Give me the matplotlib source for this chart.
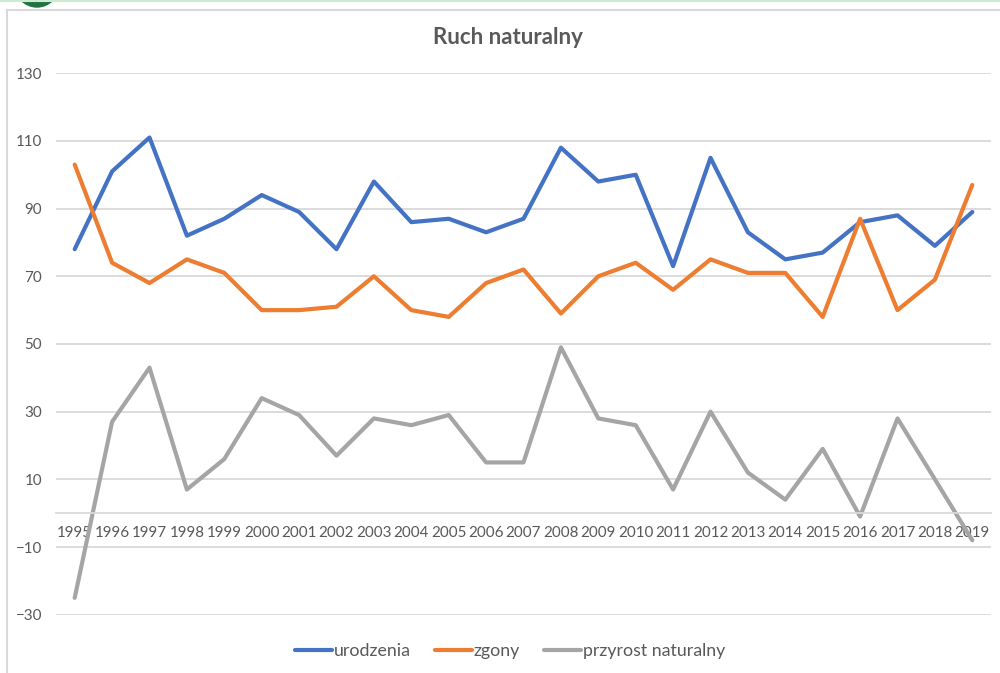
import matplotlib
matplotlib.use("Agg")
import matplotlib.pyplot as plt
from matplotlib.lines import Line2D
from matplotlib.patches import Ellipse

plt.rcParams['font.family'] = ['Lato', 'DejaVu Sans']

years = ['1995', '1996', '1997', '1998', '1999', '2000', '2001', '2002', '2003',
         '2004', '2005', '2006', '2007', '2008', '2009', '2010', '2011', '2012',
         '2013', '2014', '2015', '2016', '2017', '2018', '2019']
urodzenia = [78, 101, 111, 82, 87, 94, 89, 78, 98, 86, 87, 83, 87, 108, 98, 100,
             73, 105, 83, 75, 77, 86, 88, 79, 89]
zgony = [103, 74, 68, 75, 71, 60, 60, 61, 70, 60, 58, 68, 72, 59, 70, 74,
         66, 75, 71, 71, 58, 87, 60, 69, 97]
przyrost = [-25, 27, 43, 7, 16, 34, 29, 17, 28, 26, 29, 15, 15, 49, 28, 26,
            7, 30, 12, 4, 19, -1, 28, 10, -8]
yticks = [-30, -10, 10, 30, 50, 70, 90, 110, 130]

text_col = '#595959'
grid_col = '#d9d9d9'

fig = plt.figure(figsize=(10, 6.73), dpi=100)
ax = fig.add_axes([0.056, 0.0866, 0.935, 0.8046])

x = list(range(len(years)))
ax.plot(x, urodzenia, color='#4472C4', lw=3, label='urodzenia', solid_capstyle='round')
ax.plot(x, zgony, color='#ED7D31', lw=3, label='zgony', solid_capstyle='round')
ax.plot(x, przyrost, color='#A5A5A5', lw=3, label='przyrost naturalny', solid_capstyle='round')

ax.set_xlim(-0.5, len(years) - 0.5)
ax.set_ylim(-30, 130)
ax.set_yticks(yticks)
ax.yaxis.grid(True, color=grid_col, lw=1.3)
ax.set_axisbelow(True)
ax.set_xticks(x)
ax.set_xticklabels(years)

for s in ['top', 'right', 'left']:
    ax.spines[s].set_visible(False)
ax.spines['bottom'].set_position(('data', 0))
ax.spines['bottom'].set_color(grid_col)
ax.spines['bottom'].set_linewidth(1.3)
ax.tick_params(axis='both', length=0, colors=text_col, labelsize=10.9)
ax.tick_params(axis='x', pad=9.5)
ax.tick_params(axis='y', pad=10)

fig.text(0.508, 1 - 38 / 673, 'Ruch naturalny', ha='center', va='center',
         fontsize=16, fontweight='bold', color=text_col)

fig.legend(loc='center', bbox_to_anchor=(0.51, 1 - 651 / 673), ncol=3, frameon=False,
           fontsize=12.8, handlelength=2.1, handletextpad=0.1, columnspacing=1.35,
           labelcolor=text_col)

# chart frame and window bits
fig.add_artist(Line2D([7 / 1000, 7 / 1000], [0, 1 - 10 / 673], transform=fig.transFigure,
                      color=grid_col, lw=1.5))
fig.add_artist(Line2D([7 / 1000, 1], [1 - 10 / 673, 1 - 10 / 673], transform=fig.transFigure,
                      color=grid_col, lw=1.5))
fig.add_artist(Line2D([0, 1], [1 - 0.5 / 673, 1 - 0.5 / 673], transform=fig.transFigure,
                      color='#cdebd0', lw=1.5))
fig.add_artist(Ellipse((37 / 1000, 1 + 15 / 673), 44 / 1000, 44 / 673,
                       transform=fig.transFigure, color='#217346', clip_on=False))

fig.savefig('out.png', dpi=100)
